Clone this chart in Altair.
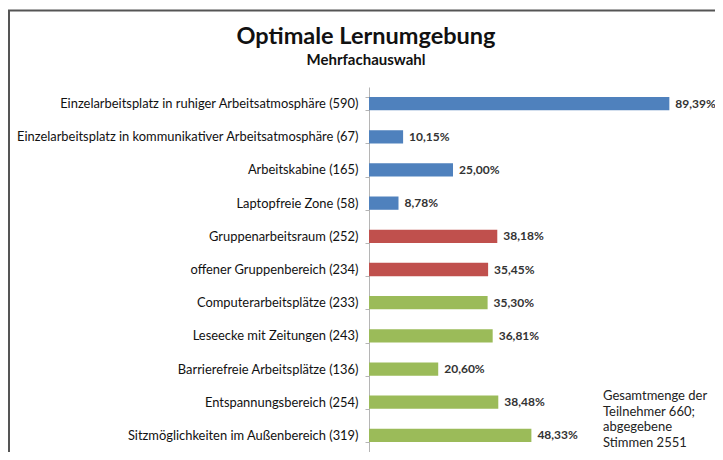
import altair as alt
import pandas as pd

categories = [
    "Einzelarbeitsplatz in ruhiger Arbeitsatmosphäre (590)",
    "Einzelarbeitsplatz in kommunikativer Arbeitsatmosphäre (67)",
    "Arbeitskabine (165)",
    "Laptopfreie Zone (58)",
    "Gruppenarbeitsraum (252)",
    "offener Gruppenbereich (234)",
    "Computerarbeitsplätze (233)",
    "Leseecke mit Zeitungen (243)",
    "Barrierefreie Arbeitsplätze (136)",
    "Entspannungsbereich (254)",
    "Sitzmöglichkeiten im Außenbereich (319)",
]
percent = [89.39, 10.15, 25.00, 8.78, 38.18, 35.45, 35.30, 36.81, 20.60, 38.48, 48.33]
group = ["Einzel", "Einzel", "Einzel", "Einzel", "Gruppe", "Gruppe",
         "Sonst", "Sonst", "Sonst", "Sonst", "Sonst"]
group_names = ["Einzel", "Gruppe", "Sonst"]
group_colors = ["#4F81BD", "#C0504D", "#9BBB59"]
note_lines = ["Gesamtmenge der", "Teilnehmer 660;", "abgegebene", "Stimmen 2551"]
title_text = "Optimale Lernumgebung"
subtitle_text = "Mehrfachauswahl"

df = pd.DataFrame({
    "cat": categories,
    "pct": percent,
    "grp": group,
    "lbl": [f"{v:.2f}".replace(".", ",") + "%" for v in percent],
})

FONT = "Lato"

y_enc = alt.Y("cat:N", sort=None, title=None,
              scale=alt.Scale(paddingInner=0.6, paddingOuter=0.3),
              axis=alt.Axis(labelFont=FONT, labelFontSize=12.9, labelColor="#111111",
                            labelPadding=7, labelLimit=400, tickSize=4, tickBand="extent",
                            domainColor="#b5b5b5", tickColor="#b5b5b5", grid=False))
x_enc = alt.X("pct:Q", scale=alt.Scale(domain=[0, 100], nice=False), axis=None)

base = alt.Chart(df)

bars = base.mark_bar().encode(
    x=x_enc, y=y_enc,
    color=alt.Color("grp:N", scale=alt.Scale(domain=group_names, range=group_colors), legend=None),
)

labels = base.mark_text(align="left", baseline="middle", dx=6, font=FONT,
                        fontSize=12, fontWeight="bold", color="#333333").encode(
    x=x_enc, y=y_enc, text="lbl:N")

single = alt.Data(values=[{}])

note = alt.Chart(single).mark_text(
    align="left", baseline="top", font=FONT, fontSize=13, color="#222222",
    lineHeight=15.5).encode(
    x=alt.value(234), y=alt.value(303), text=alt.value(note_lines))

title = alt.Chart(single).mark_text(
    align="center", baseline="middle", font=FONT, fontSize=23.5, fontWeight="bold",
    color="#111111").encode(
    x=alt.value(-3), y=alt.value(-50), text=alt.value(title_text))

subtitle = alt.Chart(single).mark_text(
    align="center", baseline="middle", font=FONT, fontSize=15, fontWeight="bold",
    color="#111111").encode(
    x=alt.value(-3), y=alt.value(-27), text=alt.value(subtitle_text))

frame = alt.Chart(single).mark_rect(
    fill=None, fillOpacity=0, stroke="#555555", strokeWidth=2).encode(
    x=alt.value(-360), x2=alt.value(500), y=alt.value(-76.5), y2=alt.value(500))

chart = alt.layer(frame, bars, labels, note, title, subtitle).properties(
    width=336, height=365,
    autosize=alt.AutoSizeParams(type="none"),
    padding={"left": 361, "top": 79, "right": 10, "bottom": 0},
).configure_view(stroke=None)

chart.save("out.html", embed_options={"renderer": "svg", "actions": False})
